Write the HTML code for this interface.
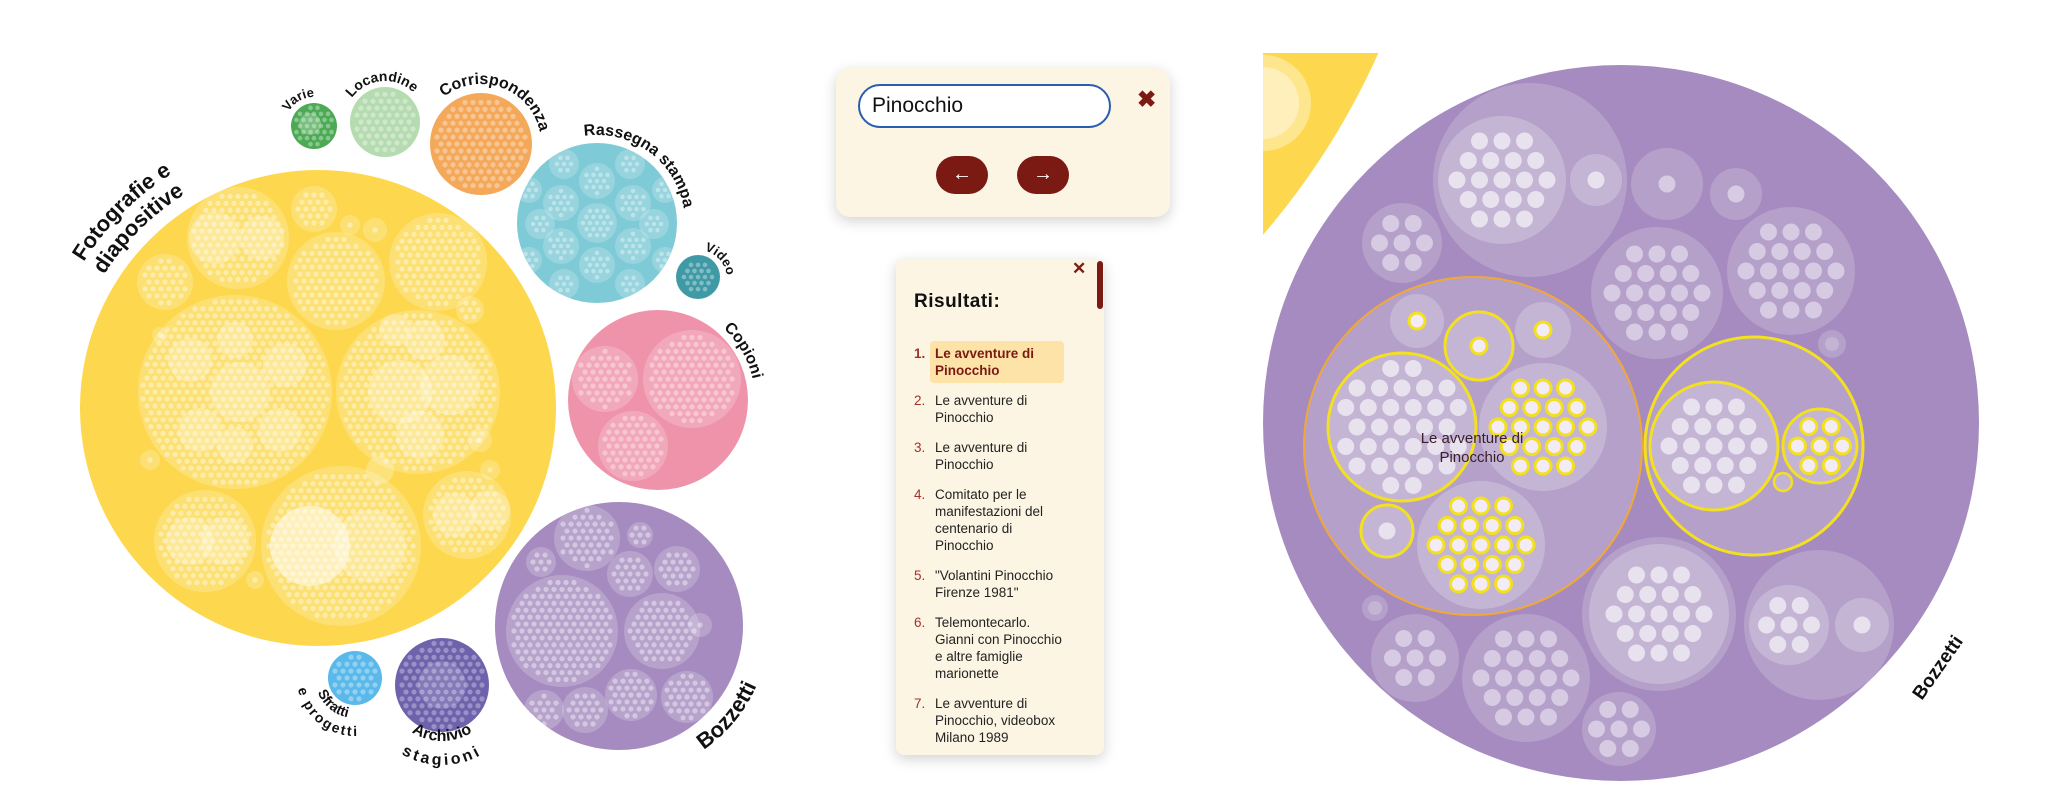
<!DOCTYPE html>
<html><head><meta charset="utf-8"><style>
html,body{margin:0;padding:0;background:#fff;width:2048px;height:790px;overflow:hidden;font-family:"Liberation Sans",sans-serif}
#svg{position:absolute;left:0;top:0}
.panel{position:absolute;background:#fdf5e3;box-shadow:0 4px 14px rgba(0,0,0,.18)}
.lbl{font-family:"Liberation Sans",sans-serif;font-weight:bold;fill:#111}
ol{list-style:none;margin:0;padding:0}
li{position:relative;padding-left:21px;font-size:13.5px;line-height:17px;color:#222;margin-bottom:13px;width:128px}
li span{position:absolute;left:0;top:0;color:#a0322a}
</style></head><body>
<svg id="svg" width="2048" height="790" viewBox="0 0 2048 790" xmlns="http://www.w3.org/2000/svg">
<defs>
<clipPath id="cl"><rect x="1263" y="53" width="300" height="300"/></clipPath>
<path id="pFoto" d="M43,384 A276,276 0 0 1 294,133"/>
<path id="pDiap" d="M67,386 A252,252 0 0 1 296,157"/>
<path id="pVarie" d="M285.4,121 A29,29 0 0 1 323.9,98.7"/>
<path id="pLoc" d="M346.5,108 A41,41 0 0 1 420.5,101.5"/>
<path id="pCorr" d="M438.6,101.6 A60,60 0 0 1 540.8,138.8"/>
<path id="pRas" d="M575.7,137.6 A88,88 0 0 1 684.8,216.9"/>
<path id="pVid" d="M700.5,250.1 A29,29 0 0 1 726.9,279.5"/>
<path id="pCop" d="M713.6,320.5 A97,97 0 0 1 754.6,391.5"/>
<path id="pBoz" d="M689.4,758.4 A150,150 0 0 0 762.4,669.9"/>
<path id="pArc" d="M399.1,721 A56,56 0 0 0 484.9,721"/>
<path id="pSta" d="M380.7,736.4 A80,80 0 0 0 503.3,736.4"/>
<path id="pSfr" d="M315.2,681.5 A40,40 0 0 0 358.5,717.8"/>
<path id="pPro" d="M297.2,672.9 A58,58 0 0 0 374.8,732.5"/>
</defs>
<g id="left"></g>
<g id="right">
<g clip-path="url(#cl)"><circle cx="700" cy="-250" r="743" fill="#fdd84e"/><circle cx="1263" cy="103" r="48" fill="#fee68e"/><circle cx="1263" cy="103" r="36" fill="#fff0bb"/></g>
<circle cx="1621" cy="423" r="358" fill="#a58bbf"/>
</g>
<g id="rdots"></g>
<text x="1472" y="443" text-anchor="middle" font-size="15" font-family="Liberation Sans" fill="#3a1f2a">Le avventure di</text>
<text x="1472" y="462" text-anchor="middle" font-size="15" font-family="Liberation Sans" fill="#3a1f2a">Pinocchio</text>
<text class="lbl" font-size="19" transform="rotate(-55 1937 667)" x="1937" y="674" text-anchor="middle">Bozzetti</text>
<g class="lbl">
<text font-size="22"><textPath href="#pFoto" startOffset="50%" text-anchor="middle">Fotografie e</textPath></text>
<text font-size="22"><textPath href="#pDiap" startOffset="50%" text-anchor="middle">diapositive</textPath></text>
<text font-size="13"><textPath href="#pVarie" startOffset="50%" text-anchor="middle">Varie</textPath></text>
<text font-size="14"><textPath href="#pLoc" startOffset="50%" text-anchor="middle">Locandine</textPath></text>
<text font-size="16"><textPath href="#pCorr" startOffset="50%" text-anchor="middle">Corrispondenza</textPath></text>
<text font-size="16"><textPath href="#pRas" startOffset="50%" text-anchor="middle">Rassegna stampa</textPath></text>
<text font-size="13"><textPath href="#pVid" startOffset="50%" text-anchor="middle">Video</textPath></text>
<text font-size="16"><textPath href="#pCop" startOffset="50%" text-anchor="middle">Copioni</textPath></text>
<text font-size="22"><textPath href="#pBoz" startOffset="50%" text-anchor="middle">Bozzetti</textPath></text>
<text font-size="16"><textPath href="#pArc" startOffset="50%" text-anchor="middle">Archivio</textPath></text>
<text font-size="16" letter-spacing="3"><textPath href="#pSta" startOffset="50%" text-anchor="middle">stagioni</textPath></text>
<text font-size="14"><textPath href="#pSfr" startOffset="50%" text-anchor="middle">Sfratti</textPath></text>
<text font-size="14" letter-spacing="2"><textPath href="#pPro" startOffset="50%" text-anchor="middle">e progetti</textPath></text>
</g>
</svg>

<div class="panel" style="left:836px;top:68px;width:334px;height:149px;border-radius:14px">
 <div style="position:absolute;left:22px;top:16px;width:253px;height:44px;border:2.5px solid #2a5db0;border-radius:24px;background:#fff;box-sizing:border-box;font-size:21px;line-height:39px;padding-left:12px;color:#111">Pinocchio</div>
 <div style="position:absolute;left:301px;top:19px;font-size:23px;font-weight:bold;color:#7a1a12;line-height:24px">✖</div>
 <div style="position:absolute;left:100px;top:88px;width:52px;height:38px;border-radius:19px;background:#7a1a12;color:#fff;text-align:center;font-size:20px;line-height:36px">←</div>
 <div style="position:absolute;left:181px;top:88px;width:52px;height:38px;border-radius:19px;background:#7a1a12;color:#fff;text-align:center;font-size:20px;line-height:36px">→</div>
</div>

<div class="panel" style="left:896px;top:259px;width:208px;height:496px;border-radius:8px">
 <div style="position:absolute;left:201px;top:2px;width:6px;height:48px;border-radius:3px;background:#7a1a12"></div>
 <div style="position:absolute;left:176px;top:0px;font-size:17px;font-weight:bold;color:#7a1a12">✕</div>
 <div style="position:absolute;left:18px;top:32px;font-size:19px;font-weight:bold;color:#111;letter-spacing:.5px">Risultati:</div>
 <div style="position:absolute;left:34px;top:82px;width:134px;height:42px;background:#fde3a8;border-radius:4px"></div>
 <ol style="position:absolute;left:18px;top:86px">
  <li style="color:#7a1a12;font-weight:bold"><span>1.</span>Le avventure di Pinocchio</li>
  <li><span>2.</span>Le avventure di Pinocchio</li>
  <li><span>3.</span>Le avventure di Pinocchio</li>
  <li><span>4.</span>Comitato per le manifestazioni del centenario di Pinocchio</li>
  <li><span>5.</span>"Volantini Pinocchio Firenze 1981"</li>
  <li><span>6.</span>Telemontecarlo. Gianni con Pinocchio e altre famiglie marionette</li>
  <li><span>7.</span>Le avventure di Pinocchio, videobox Milano 1989</li>
 </ol>
</div>

<script>
var NS="http://www.w3.org/2000/svg";
function C(g,cx,cy,r,fill,op,stroke,sw){var c=document.createElementNS(NS,"circle");c.setAttribute("cx",cx);c.setAttribute("cy",cy);c.setAttribute("r",r);c.setAttribute("fill",fill);if(op!=null)c.setAttribute("fill-opacity",op);if(stroke){c.setAttribute("stroke",stroke);c.setAttribute("stroke-width",sw||2);}g.appendChild(c);return c;}
function D(g,cx,cy,R,s,dr,fill,op,stroke,sw,inset){var h=s*0.866,lim=R-(inset==null?dr+2:inset);for(var y=-Math.floor(lim/h)*h;y<=lim;y+=h){var off=(Math.round(y/h)%2)?s/2:0;for(var x=-Math.ceil(lim/s)*s-off;x<=lim;x+=s){if(Math.sqrt(x*x+y*y)<=lim)C(g,cx+x,cy+y,dr,fill,op,stroke,sw);}}}
var L=document.getElementById("left");
C(L,318,408,238,"#fdd84e");
var ys=[[238,238,51],[314,209,23],[336,281,49],[438,262,49],[235,392,97],[418,392,82],[341,546,80],[205,541,51],[467,515,44],[165,282,28],[350,225,10],[375,230,12],[470,310,14],[150,460,10],[160,335,8],[480,440,12],[490,470,10],[255,580,9]];
ys.forEach(function(c){C(L,c[0],c[1],c[2],"#fff",0.22);});
[[215,238,26],[262,238,22],[240,392,30],[190,360,22],[285,365,22],[200,430,22],[280,430,22],[235,340,18],[235,445,18],[400,392,32],[450,385,30],[420,435,24],[425,340,20],[310,546,40],[370,546,36],[190,541,24],[225,541,24],[455,515,22],[490,510,20],[380,470,14],[395,330,16]].forEach(function(c){C(L,c[0],c[1],c[2],"#fff",0.25);});
C(L,310,546,40,"#fff",0.35);
ys.forEach(function(c){D(L,c[0],c[1],c[2],8,2.6,"#fff",0.4);});
C(L,314,126,23,"#4caa55");C(L,310,124,11,"#fff",0.25);D(L,314,126,23,7,2.3,"#fff",0.35);
C(L,385,122,35,"#b5dbb0");D(L,385,122,35,8,2.6,"#fff",0.35);
C(L,481,144,51,"#f4a85a");D(L,481,144,51,8,2.6,"#fff",0.35);
C(L,597,223,80,"#7ecad6");
[[597,223,20],[561,203,18],[633,203,18],[561,246,18],[633,246,18],[597,181,18],[597,265,18],[540,224,15],[654,224,15],[564,164,15],[630,164,15],[564,284,15],[630,284,15],[529,190,13],[665,190,13],[529,260,13],[665,260,13]].forEach(function(p){C(L,p[0],p[1],p[2],"#fff",0.2);D(L,p[0],p[1],p[2],7,2.3,"#fff",0.35);});
C(L,698,277,22,"#3f9aa6");D(L,698,277,22,7,2.3,"#fff",0.35);
C(L,658,400,90,"#ef93ab");
[[605,379,33],[692,379,49],[633,446,35]].forEach(function(c){C(L,c[0],c[1],c[2],"#fff",0.2);D(L,c[0],c[1],c[2],8,2.6,"#fff",0.35);});
C(L,619,626,124,"#a68bc0");
[[587,538,33],[630,574,23],[677,569,23],[562,631,56],[662,631,38],[631,695,26],[687,697,26],[544,710,20],[585,710,23],[541,562,15],[640,535,13],[700,625,12]].forEach(function(c){C(L,c[0],c[1],c[2],"#fff",0.2);D(L,c[0],c[1],c[2],8,2.6,"#fff",0.4);});
C(L,442,685,47,"#6f62ad");C(L,442,685,24,"#fff",0.15);D(L,442,685,47,8,2.6,"#fff",0.3);
C(L,355,678,27,"#5ab8ea");D(L,355,678,27,8,2.6,"#fff",0.35);
var R=document.getElementById("rdots");
var Y="#f3e01f";
[[1530,180,97],[1402,243,40,1],[1667,184,36,1],[1736,194,26,1],[1657,293,66,1],[1791,271,64,1],[1832,344,14,0],[1659,614,77],[1819,625,75],[1415,658,44,1],[1526,678,64,1],[1619,729,37,1],[1375,608,13,0]].forEach(function(c){C(R,c[0],c[1],c[2],"#fff",0.18);if(c[3])D(R,c[0],c[1],c[2],22.5,8.5,"#fff",0.45,null,0,14);});
C(R,1832,344,7,"#fff",0.2);C(R,1375,608,7,"#fff",0.2);
C(R,1473,446,169,"#fff",0.18,"#f0a838",2);
C(R,1754,446,109,"#fff",0.18,Y,3);
[[1502,180,64],[1596,180,26],[1659,614,70],[1789,625,40],[1862,625,27]].forEach(function(c){C(R,c[0],c[1],c[2],"#fff",0.22);D(R,c[0],c[1],c[2],22.5,8.5,"#fff",0.6,null,0,14);});
[[1402,427,74,1,0],[1417,321,27,0,1],[1479,346,34,1,1],[1543,330,28,0,1],[1543,427,64,0,1],[1387,531,26,1,0],[1481,545,64,0,1],[1714,446,64,1,0],[1820,446,37,1,1]].forEach(function(c){
 C(R,c[0],c[1],c[2],"#fff",0.22,c[3]?Y:null,3);
 if(c[4])D(R,c[0],c[1],c[2],22.5,8,"#f3ecf6",1,Y,3,13);else D(R,c[0],c[1],c[2],22.5,8.5,"#fff",0.6,null,0,14);
});
C(R,1783,482,9,"#fff",0.2,Y,2.5);
</script>
</body></html>
